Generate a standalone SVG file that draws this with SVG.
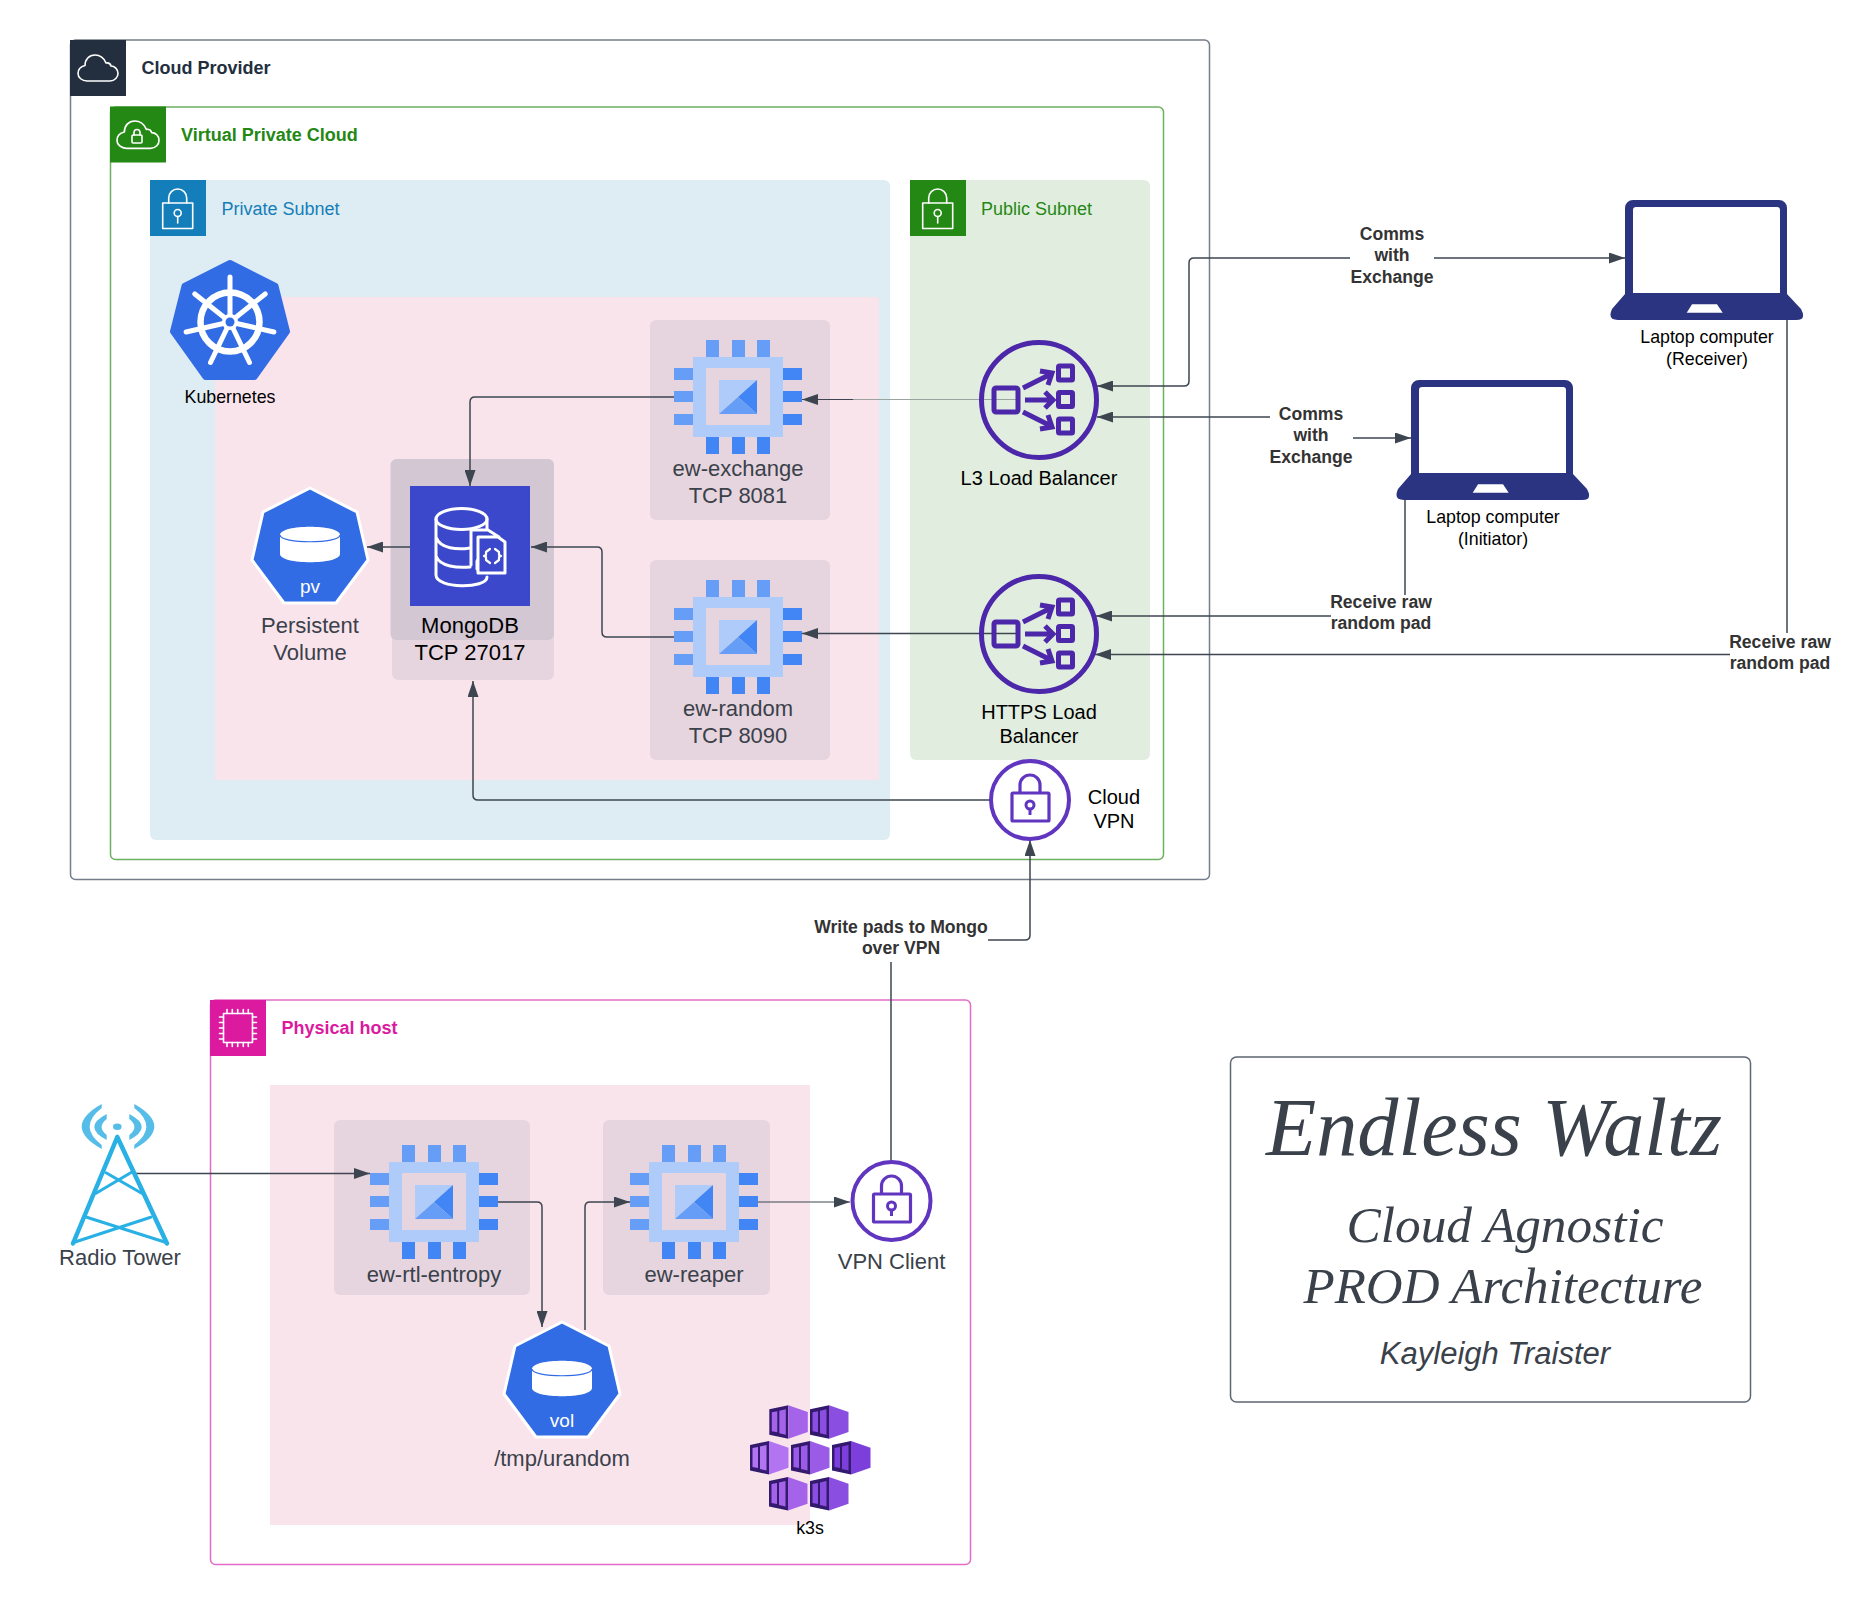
<svg xmlns="http://www.w3.org/2000/svg" width="1874" height="1605" viewBox="0 0 1874 1605">
<style>
text{font-family:"Liberation Sans",Arial,sans-serif}
.c{text-anchor:middle}
.n{font-size:22px;fill:#3a414a}
.b{font-size:22px;fill:#000}
.s{font-size:20px;fill:#000}
.m{font-size:17.8px;fill:#000}
.l{font-size:17.6px;font-weight:700;fill:#333}
.h{font-size:18px;font-weight:700}
.sub{font-size:18px}
.serif{font-family:"Liberation Serif","Times New Roman",serif;font-style:italic;fill:#3a414a}
.conn{fill:none;stroke:#3d4650;stroke-width:1.5}
.thin{stroke-width:1}
.arr{marker-end:url(#ah)}
.box{fill:#e6d5df}
.wl{fill:none;stroke:#fff;stroke-width:1.6;stroke-linejoin:round;stroke-linecap:round}
.lb{fill:none;stroke:#4d27aa;stroke-width:5}
.vp{fill:none;stroke:#6035c0;stroke-linejoin:round}
</style>
<defs>
<marker id="ah" markerUnits="userSpaceOnUse" markerWidth="16" markerHeight="11" refX="16" refY="5.5" orient="auto"><path d="M0 0L16 5.5L0 11Z" fill="#3d4650"/></marker>
<linearGradient id="fade" gradientUnits="userSpaceOnUse" x1="802" y1="0" x2="1017" y2="0"><stop offset="0.237" stop-color="#3d4650"/><stop offset="0.24" stop-color="#9aa39f"/></linearGradient>
<g id="chip">
<path fill="#669df6" d="M-32 0h13v17h-13zM-6 0h13v17h-13zM19 0h13v17h-13zM-64 28h19v12h-19zM-64 51h19v11h-19zM-64 74h19v11h-19z"/>
<path fill="#4285f4" d="M-32 97h13v17h-13zM-6 97h13v17h-13zM19 97h13v17h-13zM45 28h19v12h-19zM45 51h19v11h-19zM45 74h19v11h-19z"/>
<path fill="#aecbfa" fill-rule="evenodd" d="M-45 17H45V97H-45ZM-32 28V85H32V28Z"/>
<path fill="#aecbfa" d="M-19 40H19L-19 74Z"/>
<path fill="#4285f4" d="M19 40V74L0 57Z"/>
<path fill="#669df6" d="M-19 74L0 57L19 74Z"/>
</g>
<g id="lbicon">
<circle r="57.5" class="lb"/>
<rect x="-45" y="-12" width="24" height="24" rx="2" class="lb"/>
<rect x="19.5" y="-34" width="14" height="14" rx="1" class="lb"/>
<rect x="19.5" y="-7.5" width="14" height="14" rx="1" class="lb"/>
<rect x="19.5" y="19" width="14" height="14" rx="1" class="lb"/>
<path class="lb" d="M-16 -12L12 -26M1 -29L13 -27L9 -15M-14 0H13M6 -8L14 0L6 8M-16 12L12 26M9 15L13 27L1 29"/>
</g>
<g id="lock">
<circle r="39" class="vp" stroke-width="4"/>
<rect x="-18" y="-7" width="37" height="28" rx="1" class="vp" stroke-width="3.2"/>
<path class="vp" stroke-width="3.2" d="M-10 -7V-15A10 10 0 0 1 10 -15V-7"/>
<circle cy="5" r="4" class="vp" stroke-width="3"/>
<path class="vp" stroke-width="3" d="M0 9V15"/>
</g>
<path id="cloud" class="wl" d="M9 26H32C37 26 40 22 40 18.500C40 14 36.500 11 33 11C32.500 9 30.500 7.500 28 8C26 3 21.500 0 17 0C11 0 7 4.500 7 10.500C3 11.500 0 14.500 0 18.500C0 22.500 4 26 9 26Z"/>
<g id="hept">
<path fill="#326ce5" stroke="#fff" stroke-width="3" stroke-linejoin="round" d="M0 1L47 25L58 73L26 116H-26L-58 73L-47 25Z"/>
<path fill="#fff" d="M-30 48C-30 37 30 37 30 48V67C30 78 -30 78 -30 67Z"/>
<path fill="none" stroke="#326ce5" stroke-width="1.200" d="M-30 48C-30 57 30 57 30 48"/>
</g>
<g id="laptop">
<path fill="#2b3481" fill-rule="evenodd" d="M15 94V8A8 8 0 0 1 23 0H169A8 8 0 0 1 177 8V94L191 109Q197 120 186 120H8Q-3 120 2 109ZM23 93H170V10A3 3 0 0 0 167 7H26A3 3 0 0 0 23 10Z"/>
<path fill="#fff" d="M82 104.300H107L112.700 112.700H76.700Z"/>
</g>
<g id="sublock">
<rect x="-15" y="-10" width="30" height="25.500" class="wl"/>
<path class="wl" d="M-9 -10V-15A9 9 0 0 1 9 -15V-10"/>
<circle cy="0" r="3.500" class="wl"/>
<path class="wl" d="M0 3.500V10"/>
</g>
<g id="block">
<path fill="#341a6e" d="M0 4L19 0V33.500L0 29.500Z"/>
<path d="M19 0L38.500 6.700V26.700L19 33.500Z"/>
<path d="M2.500 7L8 6V27L2.500 26ZM10 5.500L16.500 4V29.500L10 28Z"/>
</g>
</defs>
<rect width="1874" height="1605" fill="#fff"/>

<g id="cloud-provider">
<rect x="70.500" y="40" width="1139" height="839.500" rx="5" fill="#fff" stroke="#747d8a" stroke-width="1.500"/>
<rect x="70" y="40" width="56" height="56" fill="#232f3e"/>
<use href="#cloud" transform="translate(78 55)"/>
<text class="h" x="141.500" y="74" fill="#232f3e">Cloud Provider</text>
</g>
<g id="vpc">
<rect x="110.500" y="107" width="1053" height="752.500" rx="5" fill="#fff" stroke="#6cb05f" stroke-width="1.500"/>
<rect x="110" y="106.500" width="56" height="56" fill="#248814"/>
<use href="#cloud" transform="translate(117 121) scale(1.050)"/>
<rect x="132" y="135" width="10" height="8" rx="1" class="wl"/>
<path class="wl" d="M134 135V132.500A3 3 0 0 1 140 132.500V135"/>
<text class="h" x="181" y="140.500" fill="#248814">Virtual Private Cloud</text>
</g>
<g id="private-subnet">
<rect x="150" y="180" width="740" height="660" rx="6" fill="#deecf3"/>
<rect x="150" y="180" width="56" height="56" fill="#147eba"/>
<use href="#sublock" transform="translate(177.700 213)"/>
<text class="sub" x="221.500" y="214.500" fill="#147eba">Private Subnet</text>
</g>
<g id="public-subnet">
<rect x="910" y="180" width="240" height="580" rx="6" fill="#e1eedf"/>
<rect x="910" y="180" width="56" height="56" fill="#248814"/>
<use href="#sublock" transform="translate(937.700 213)"/>
<text class="sub" x="981" y="214.500" fill="#248814">Public Subnet</text>
</g>
<g id="k8s-cluster"><rect x="215" y="297" width="664" height="483" fill="#fae4ec"/></g>
<g id="physical-host">
<rect x="210.500" y="1000" width="760" height="564.500" rx="5" fill="#fff" stroke="#e46cc8" stroke-width="1.500"/>
<rect x="210" y="1000" width="56" height="56" fill="#dc1aa0"/>
<rect x="223.500" y="1013.500" width="29" height="29" class="wl"/>
<path class="wl" d="M227 1009.500v4M232.300 1009.500v4M237.700 1009.500v4M243.300 1009.500v4M248.300 1009.500v4M227 1042.500v4M232.300 1042.500v4M237.700 1042.500v4M243.300 1042.500v4M248.300 1042.500v4M219.500 1017h4M219.500 1022.500h4M219.500 1028h4M219.500 1033.500h4M219.500 1039h4M252.500 1017h4M252.500 1022.500h4M252.500 1028h4M252.500 1033.500h4M252.500 1039h4"/>
<text class="h" x="281.500" y="1034" fill="#dc1aa0">Physical host</text>
</g>
<g id="k3s-cluster"><rect x="270" y="1085" width="540" height="440" fill="#fae4ec"/></g>

<g id="box-exchange"><rect x="650" y="320" width="180" height="200" rx="6" class="box"/></g>
<g id="box-random"><rect x="650" y="560" width="180" height="200" rx="6" class="box"/></g>
<g id="box-mongo"><rect x="392" y="459" width="162" height="221" rx="6" class="box"/><rect x="390.500" y="459" width="163.500" height="181" rx="6" fill="#d3c7d3"/></g>
<g id="box-entropy"><rect x="334" y="1120" width="196" height="175" rx="6" class="box"/></g>
<g id="box-reaper"><rect x="603" y="1120" width="167" height="175" rx="6" class="box"/></g>

<g id="connectors">
<path class="conn arr" style="stroke:url(#fade);stroke-width:1.200" d="M1017 399.500H802.500V399.501H802"/>
<path class="conn arr" d="M1017 633.500H802"/>
<path class="conn arr" d="M674 397H475Q470 397 470 402V486"/>
<path class="conn arr" d="M674 637H607Q602 637 602 632V552Q602 547 597 547H531"/>
<path class="conn arr" d="M410 547H367"/>
<path class="conn arr" d="M991 800H478Q473 800 473 795V681"/>
<path class="conn arr" d="M1350 258H1194Q1189 258 1189 263V381Q1189 386 1184 386H1097"/>
<path class="conn arr" d="M1434 258H1625"/>
<path class="conn arr" d="M1270 417H1097"/>
<path class="conn arr" d="M1353 438H1411"/>
<path class="conn" d="M1405 500V595"/>
<path class="conn arr" d="M1331 616H1096"/>
<path class="conn" d="M1787 320V633"/>
<path class="conn arr" d="M1730 654.500H1095"/>
<path class="conn" d="M891 1160V962"/>
<path class="conn arr" d="M988 940H1025Q1030 940 1030 935V840"/>
<path class="conn arr" d="M135 1173.500H370"/>
<path class="conn arr" d="M498 1202H537Q542 1202 542 1207V1327"/>
<path class="conn arr" d="M585 1330V1207Q585 1202 590 1202H630"/>
<path class="conn thin arr" d="M758 1202H850"/>
</g>

<g id="kubernetes">
<path fill="#326ce5" stroke="#326ce5" stroke-width="6" stroke-linejoin="round" d="M230 263L275.500 286L287 331.500L254.500 377H205.500L173 331.500L184.500 286Z"/>
<g stroke="#fff" stroke-width="5" stroke-linecap="round" fill="none">
<circle cx="230" cy="322" r="29.500" stroke-width="6.500"/>
<path d="M230 322V277M230 322L265.200 294M230 322L273.900 332M230 322L249.500 362.500M230 322L210.500 362.500M230 322L186.100 332M230 322L194.800 294"/>
</g>
<circle cx="230" cy="322" r="8" fill="#fff"/><circle cx="230" cy="322" r="4.500" fill="#326ce5"/>
<text class="m c" x="230" y="403">Kubernetes</text>
</g>
<g id="ew-exchange"><use href="#chip" x="738" y="340"/><text class="n c"><tspan x="738" y="476">ew-exchange</tspan><tspan x="738" y="503">TCP 8081</tspan></text></g>
<g id="ew-random"><use href="#chip" x="738" y="580"/><text class="n c"><tspan x="738" y="716">ew-random</tspan><tspan x="738" y="743">TCP 8090</tspan></text></g>
<g id="mongodb">
<rect x="410" y="486" width="120" height="120" fill="#3b48cc"/>
<g fill="none" stroke="#fff" stroke-width="3" stroke-linejoin="round" stroke-linecap="round">
<ellipse cx="461.500" cy="519" rx="25.500" ry="10.500"/>
<path d="M436 519V575C436 589 487 589 487 577M436 537C440 549 458 550 470 548M436 556C440 567 458 568 470 567"/>
<path d="M487 519V530M477 537V569"/>
<path fill="#3b48cc" d="M471 565V530H488L499 537H478V573H505V542L498 537M478 573H505"/>
<path d="M490 549L486 552V555L484 556L486 557V560L490 563M495 549L499 552V555L501 556L499 557V560L495 563" stroke-width="2.200"/>
</g>
<text class="b c"><tspan x="470" y="633">MongoDB</tspan><tspan x="470" y="660">TCP 27017</tspan></text>
</g>
<g id="persistent-volume">
<use href="#hept" x="310" y="487"/>
<text class="c" x="310" y="593" font-size="19" fill="#fff">pv</text>
<text class="n c"><tspan x="310" y="633">Persistent</tspan><tspan x="310" y="660">Volume</tspan></text>
</g>
<g id="l3-lb"><use href="#lbicon" x="1039" y="400"/><text class="s c" x="1039" y="485">L3 Load Balancer</text></g>
<g id="https-lb"><use href="#lbicon" x="1039" y="634"/><text class="s c"><tspan x="1039" y="719">HTTPS Load</tspan><tspan x="1039" y="743">Balancer</tspan></text></g>
<g id="cloud-vpn"><use href="#lock" x="1030" y="800"/><text class="s c"><tspan x="1114" y="804">Cloud</tspan><tspan x="1114" y="828">VPN</tspan></text></g>
<g id="laptop-receiver"><use href="#laptop" x="1610" y="200"/><text class="m c"><tspan x="1707" y="343">Laptop computer</tspan><tspan x="1707" y="365">(Receiver)</tspan></text></g>
<g id="laptop-initiator"><use href="#laptop" x="1396" y="380"/><text class="m c"><tspan x="1493" y="523">Laptop computer</tspan><tspan x="1493" y="545">(Initiator)</tspan></text></g>

<g id="radio-tower">
<g fill="#56bde8">
<ellipse cx="117.300" cy="1126.700" rx="4.300" ry="3.300"/>
<path id="wave" d="M101.700 1104Q61.700 1126.500 101.700 1149L101.700 1145Q77.700 1126.500 101.700 1108ZM106.700 1114Q81.900 1127 106.700 1140V1135Q96.500 1127 106.700 1119Z"/>
<use href="#wave" transform="translate(236 0) scale(-1 1)"/>
</g>
<g fill="none" stroke="#29b0e4" stroke-linecap="round">
<path stroke-width="4.500" d="M117.300 1137L73 1243.500M117.300 1137L167 1243.500"/>
<path stroke-width="3" d="M106 1172.700L141.700 1193.300M130.700 1172.700L96 1193.300M86.700 1217.300L167 1242.700M150.700 1217.300L72.700 1242.700"/>
</g>
<text class="n c" x="120" y="1265">Radio Tower</text>
</g>
<g id="ew-rtl-entropy"><use href="#chip" x="434" y="1145"/><text class="n c" x="434" y="1282">ew-rtl-entropy</text></g>
<g id="ew-reaper"><use href="#chip" x="694" y="1145"/><text class="n c" x="694" y="1282">ew-reaper</text></g>
<g id="tmp-urandom">
<use href="#hept" x="562" y="1321"/>
<text class="c" x="562" y="1427" font-size="19" fill="#fff">vol</text>
<text class="n c" x="562" y="1466">/tmp/urandom</text>
</g>
<g id="vpn-client"><use href="#lock" x="891.500" y="1201"/><text class="n c" x="891.500" y="1269">VPN Client</text></g>
<g id="k3s">
<use href="#block" x="769.300" y="1405.300" fill="#a563ea"/>
<use href="#block" x="810" y="1405.300" fill="#8a4ee0"/>
<use href="#block" x="750" y="1441" fill="#b274f1"/>
<use href="#block" x="791" y="1441" fill="#9a5be6"/>
<use href="#block" x="832" y="1441" fill="#7c3fdc"/>
<use href="#block" x="769" y="1477" fill="#a563ea"/>
<use href="#block" x="810" y="1477" fill="#8a4ee0"/>
<text class="m c" x="810" y="1534">k3s</text>
</g>

<g id="connector-labels">
<text class="l c"><tspan x="1392" y="240">Comms</tspan><tspan x="1392" y="261.300">with</tspan><tspan x="1392" y="282.600">Exchange</tspan></text>
<text class="l c"><tspan x="1311" y="420">Comms</tspan><tspan x="1311" y="441.300">with</tspan><tspan x="1311" y="462.600">Exchange</tspan></text>
<text class="l c"><tspan x="1381" y="608">Receive raw</tspan><tspan x="1381" y="629">random pad</tspan></text>
<text class="l c"><tspan x="1780" y="648">Receive raw</tspan><tspan x="1780" y="669">random pad</tspan></text>
<text class="l c"><tspan x="901" y="933">Write pads to Mongo</tspan><tspan x="901" y="954">over VPN</tspan></text>
</g>

<g id="title-block">
<rect x="1230.500" y="1057" width="520" height="345" rx="6" fill="#fff" stroke="#5e6670" stroke-width="1.500"/>
<text class="serif c" x="1494" y="1155" font-size="82.200">Endless Waltz</text>
<text class="serif c" x="1505" y="1241.500" font-size="51.300">Cloud Agnostic</text>
<text class="serif c" x="1503" y="1302.500" font-size="51">PROD Architecture</text>
<text class="c" x="1495" y="1363.500" font-size="31" font-style="italic" fill="#3a414a">Kayleigh Traister</text>
</g>
</svg>
